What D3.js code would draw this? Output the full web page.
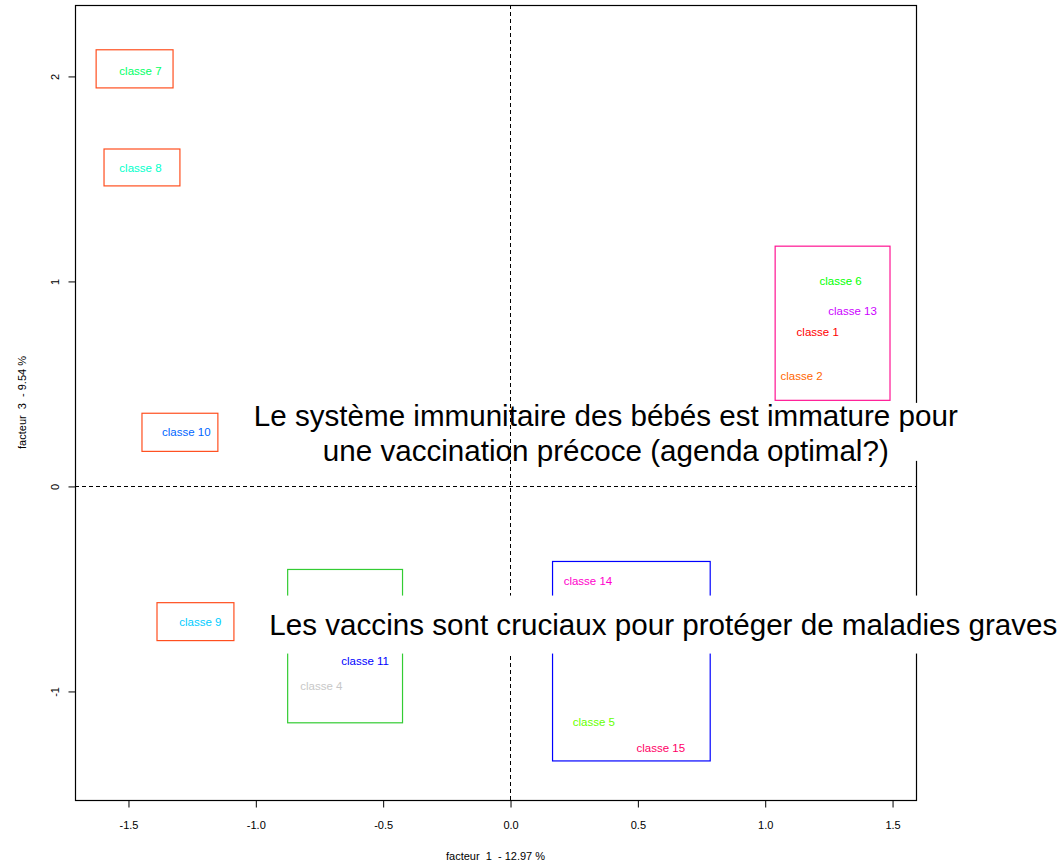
<!DOCTYPE html>
<html>
<head>
<meta charset="utf-8">
<script src="https://cdn.jsdelivr.net/npm/d3@7/dist/d3.min.js"></script>
<style>
  html, body { margin: 0; padding: 0; background: #fff; }
  svg { display: block; font-family: "Liberation Sans", Arial, sans-serif; }
</style>
</head>
<body>
<svg id="chart" width="1060" height="863"></svg>
<script>
// ---- data ----
const classLabels = ["classe 7", "classe 8", "classe 6", "classe 13", "classe 1", "classe 2",
                     "classe 10", "classe 9", "classe 11", "classe 4", "classe 14", "classe 5", "classe 15"];
const classX = [-1.451, -1.451, 1.298, 1.345, 1.208, 1.145, -1.271, -1.216, -0.569, -0.741, 0.306, 0.329, 0.592];
const classY = [2.022, 1.553, 1.001, 0.855, 0.752, 0.537, 0.264, -0.664, -0.855, -0.977, -0.464, -1.153, -1.280];
const classColors = ["#00FF66", "#00FFCC", "#00FF00", "#CC00FF", "#FF0000", "#FF6600",
                     "#0066FF", "#00CCFF", "#0000FF", "#C8C8C8", "#FF00CC", "#66FF00", "#FF0066"];

const boxX0 = [-1.627, -1.596, -1.447, -1.388, 1.039, -0.875, 0.165];
const boxX1 = [-1.325, -1.298, -1.149, -1.086, 1.490, -0.424, 0.784];
const boxY0 = [2.130, 1.646, 0.357, -0.567, 1.172, -0.405, -0.366];
const boxY1 = [1.944, 1.466, 0.171, -0.752, 0.420, -1.153, -1.339];
const boxColors = ["#FF4F1F", "#FF4F1F", "#FF4F1F", "#FF4F1F", "#FF1493", "#33CC33", "#0000FF"];

const xTicks = [-1.5, -1.0, -0.5, 0.0, 0.5, 1.0, 1.5];
const xTickLabels = ["-1.5", "-1.0", "-0.5", "0.0", "0.5", "1.0", "1.5"];
const yTicks = [-1, 0, 1, 2];
const yTickLabels = ["-1", "0", "1", "2"];

const xAxisTitle = "facteur  1  - 12.97 %";
const yAxisTitle = "facteur  3  - 9.54 %";

const note1Lines = ["Le système immunitaire des bébés est immature pour",
                    "une vaccination précoce (agenda optimal?)"];
const note1X = 0.376, note1Y = 0.293;
const note2Lines = ["Les vaccins sont cruciaux pour protéger de maladies graves"];
const note2X = 0.602, note2Y = -0.725;

// ---- layout ----
const svg = d3.select("#chart");
const plotL = 75, plotR = 916, plotT = 5, plotB = 800;
const x = d3.scaleLinear().domain([-1.708, 1.594]).range([plotL, plotR]);
const y = d3.scaleLinear().domain([-1.532, 2.346]).range([plotB, plotT]);

// boxes
svg.append("g").selectAll("rect").data(boxX0.map((d, i) => i)).join("rect")
  .attr("x", i => x(boxX0[i]) + 0.5)
  .attr("y", i => y(boxY0[i]) + 0.5)
  .attr("width", i => x(boxX1[i]) - x(boxX0[i]))
  .attr("height", i => y(boxY1[i]) - y(boxY0[i]))
  .attr("fill", "none")
  .attr("stroke", i => boxColors[i])
  .attr("stroke-width", 1.2);

// class labels
svg.append("g").selectAll("text").data(classLabels).join("text")
  .attr("x", (d, i) => x(classX[i]))
  .attr("y", (d, i) => y(classY[i]))
  .attr("dy", "0.35em")
  .attr("text-anchor", "middle")
  .attr("font-size", 11.5)
  .attr("fill", (d, i) => classColors[i])
  .text(d => d);

// reference dashed line (y = 0 horizontal)
svg.append("line")
  .attr("x1", plotL).attr("x2", plotR)
  .attr("y1", Math.round(y(0)) + 0.5).attr("y2", Math.round(y(0)) + 0.5)
  .attr("stroke", "#000").attr("stroke-dasharray", "4,3");

// frame
svg.append("rect")
  .attr("x", plotL + 0.5).attr("y", plotT + 0.5)
  .attr("width", plotR - plotL).attr("height", plotB - plotT)
  .attr("fill", "none").attr("stroke", "#000").attr("stroke-width", 1.2);

// axes
const xAxis = d3.axisBottom(x).tickValues(xTicks).tickFormat((d, i) => xTickLabels[i])
  .tickSize(7).tickPadding(14);
const gx = svg.append("g").attr("transform", `translate(0.5,${plotB + 0.5})`).call(xAxis);
gx.select(".domain").remove();
gx.selectAll("text").attr("font-size", 11).attr("font-family", "Liberation Sans, Arial, sans-serif").attr("fill", "#000");
gx.selectAll("line").attr("stroke", "#000");

const yAxis = d3.axisLeft(y).tickValues(yTicks).tickFormat((d, i) => yTickLabels[i])
  .tickSize(7).tickPadding(0);
const gy = svg.append("g").attr("transform", `translate(${plotL + 0.5},0.5)`).call(yAxis);
gy.select(".domain").remove();
gy.selectAll("line").attr("stroke", "#000");
gy.selectAll("text")
  .attr("font-size", 11).attr("font-family", "Liberation Sans, Arial, sans-serif").attr("fill", "#000")
  .attr("x", 0).attr("dy", 0)
  .attr("text-anchor", "middle")
  .attr("transform", d => `translate(-20,0) rotate(-90)`)
  .attr("y", 0).attr("dy", "0.35em");

// axis titles
svg.append("text")
  .attr("x", (plotL + plotR) / 2).attr("y", 860)
  .attr("text-anchor", "middle").attr("font-size", 11).attr("fill", "#000")
  .style("white-space", "pre").attr("xml:space", "preserve")
  .text(xAxisTitle);
svg.append("text")
  .attr("transform", `translate(26,${(plotT + plotB) / 2}) rotate(-90)`)
  .attr("text-anchor", "middle").attr("font-size", 11).attr("fill", "#000")
  .style("white-space", "pre").attr("xml:space", "preserve")
  .text(yAxisTitle);

// annotation 1 (its white background does not reach the vertical dashed line)
const n1 = svg.append("g");
const n1bg = n1.append("rect").attr("fill", "#fff");
const n1t = n1.append("text").attr("text-anchor", "middle").attr("font-size", 29.6).attr("fill", "#000");
note1Lines.forEach((l, i) => {
  n1t.append("tspan").attr("x", x(note1X)).attr("y", y(note1Y) + i * 35).text(l);
});
const b1 = n1t.node().getBBox();
n1bg.attr("x", x(0) + 20).attr("y", y(note1Y) - 23)
  .attr("width", b1.x + b1.width + 6 - (x(0) + 20)).attr("height", 58);

// vertical dashed line x = 0
svg.append("line")
  .attr("x1", Math.round(x(0)) + 0.5).attr("x2", Math.round(x(0)) + 0.5)
  .attr("y1", plotT).attr("y2", plotB)
  .attr("stroke", "#000").attr("stroke-dasharray", "4,3");

// annotation 2
const n2 = svg.append("g");
const n2bg = n2.append("rect").attr("fill", "#fff");
const n2t = n2.append("text").attr("text-anchor", "middle").attr("font-size", 29.6).attr("fill", "#000");
note2Lines.forEach((l, i) => {
  n2t.append("tspan").attr("x", x(note2X)).attr("y", y(note2Y)).text(l);
});
const b2 = n2t.node().getBBox();
n2bg.attr("x", b2.x - 6).attr("y", y(note2Y) - 39)
  .attr("width", b2.width + 12).attr("height", 58);
</script>
</body>
</html>
